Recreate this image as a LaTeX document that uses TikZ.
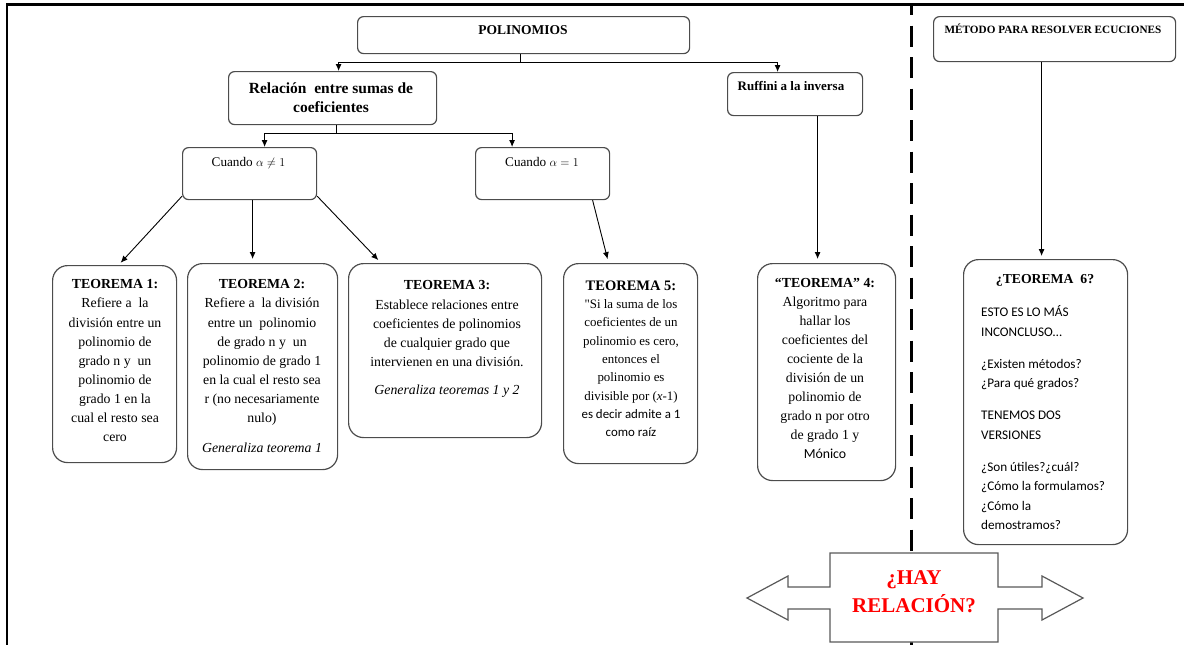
\documentclass[tikz,border=0pt]{standalone}
\usepackage{fontspec}
\setmainfont{Liberation Serif}
\newfontfamily\carl{Carlito}
\newfontfamily\rawser[Ligatures=ResetAll]{Liberation Serif}
\usetikzlibrary{arrows.meta}
\newcommand\mystrut{\rule{0pt}{1em}}
\begin{document}
\begin{tikzpicture}[x=1pt,y=-1pt,
  box/.style={draw=black!70, line width=1.2pt, rounded corners=6pt, inner sep=0pt, anchor=north west},
  tbox/.style={box, rounded corners=15pt},
  arr/.style={-{Latex[length=7pt,width=6pt]}, line width=0.9pt},
  txt/.style={inner sep=0pt, align=center, anchor=north},
  one/.style={inner sep=0pt, anchor=base},
  body/.style={font=\fontsize{13.8}{19.1}\selectfont}
]
\useasboundingbox (0,0) rectangle (1184,645);
% frame and divider
\draw[line width=2.2pt] (7,645) -- (7,4.5) -- (1184,4.5);
\draw[line width=3pt, dash pattern=on 21pt off 10.5pt, dash phase=10pt] (911,4) -- (911,645);

% boxes
\node[box, minimum width=332, minimum height=37] (pol) at (357,16) {};
\node[box, minimum width=208, minimum height=53] (rel) at (228,71) {};
\node[box, minimum width=135, minimum height=43] (ruf) at (727,72) {};
\node[box, minimum width=242, minimum height=45] (met) at (933,16) {};
\node[box, minimum width=134, minimum height=52] (c1) at (182,147) {};
\node[box, minimum width=134, minimum height=52] (c2) at (475,147) {};
\node[tbox, minimum width=124, minimum height=197] (t1) at (52,265) {};
\node[tbox, minimum width=150, minimum height=206] (t2) at (187,263) {};
\node[tbox, minimum width=193, minimum height=174] (t3) at (348,263) {};
\node[tbox, minimum width=134, minimum height=200] (t5) at (563,263) {};
\node[tbox, minimum width=138, minimum height=217] (t4) at (757,263) {};
\node[tbox, minimum width=164, minimum height=285] (t6) at (963,259) {};

% texts
\node[one, font=\bfseries\fontsize{13.5}{16}\selectfont] (polt) at (523,34.5) {POLINOMIOS};
\node[txt, font=\bfseries\fontsize{15.5}{19}\selectfont] (relt) at (331,77.6) {\mystrut Relación\ \ entre sumas de\\coeficientes};
\node[one, font=\bfseries\fontsize{13}{16}\selectfont] (ruft) at (791,90.3) {Ruffini a la inversa};
\node[one, font=\bfseries\fontsize{11.2}{14}\selectfont] (mett) at (1053,33.7) {MÉTODO PARA RESOLVER ECUCIONES};
\node[one, font=\fontsize{13.2}{16}\selectfont] (c1t) at (248.5,166.3) {Cuando $\alpha \neq 1$};
\node[one, font=\fontsize{13.2}{16}\selectfont] (c2t) at (542,166.5) {Cuando $\alpha = 1$};

\node[txt, body] (t1t) at (115,274.8) {\mystrut{\bfseries TEOREMA 1:}\\Refiere a\ \ la\\división entre un\\polinomio de\\grado n y\ \ un\\polinomio de\\grado 1 en la\\cual el resto sea\\cero};
\node[txt, body] (t2t) at (262,274.8) {\mystrut{\bfseries TEOREMA 2:}\\Refiere a\ \ la división\\entre un\ \ polinomio\\de grado n y\ \ un\\polinomio de grado 1\\en la cual el resto sea\\r (no necesariamente\\nulo)\\[10.9pt]\textit{Generaliza teorema 1}};
\node[txt, font=\fontsize{13.8}{19.2}\selectfont] (t3t) at (447,275.8) {\mystrut{\bfseries TEOREMA 3:}\\Establece relaciones entre\\coeficientes de polinomios\\de cualquier grado que\\intervienen en una división.\\[9pt]\textit{Generaliza teoremas 1 y 2}};
\node[txt, font=\fontsize{12.9}{18.35}\selectfont] (t5t) at (631,276.9) {\mystrut{\fontsize{14.5}{18.35}\selectfont\bfseries TEOREMA 5:}\\{\rawser"}Si la suma de los\\coeficientes de un\\polinomio es cero,\\entonces el\\polinomio es\\divisible por (\textit{x}-1)\\{\carl es decir admite a 1}\\{\carl como raíz}};
\node[txt, font=\fontsize{13.8}{19}\selectfont] (t4t) at (825,273.8) {\mystrut{\bfseries “TEOREMA” 4:}\\Algoritmo para\\hallar los\\coeficientes del\\cociente de la\\división de un\\polinomio de\\grado n por otro\\de grado 1 y\\{\carl Mónico}};
\node[one, font=\bfseries\fontsize{13.7}{16}\selectfont] (t6h) at (1045,283.6) {¿TEOREMA\ \ 6?};
\node[inner sep=0pt, anchor=north west, align=left, font=\carl\fontsize{13.2}{19.5}\selectfont] (t6t) at (981,303.2) {\mystrut ESTO ES LO MÁS\\INCONCLUSO…\\[12.5pt]¿Existen métodos?\\¿Para qué grados?\\[12.5pt]TENEMOS DOS\\VERSIONES\\[12.5pt]¿Son útiles?¿cuál?\\¿Cómo la formulamos?\\¿Cómo la\\demostramos?};

% connectors
\draw[arr] ([xshift=-3pt]pol.south) -- ++(0,8) -| ([xshift=6pt]rel.north);
\draw[arr] ([xshift=-3pt]pol.south) -- ++(0,8) -| ([xshift=-17.5pt]ruf.north);
\draw[arr] ([xshift=4pt]rel.south) -- ++(0,8) -| ([xshift=15pt]c1.north);
\draw[arr] ([xshift=4pt]rel.south) -- ++(0,8) -| ([xshift=-30.5pt]c2.north);
\draw[arr, shorten >=3pt] ([yshift=4pt]c1.south west) -- ([xshift=4pt]t1.north);
\draw[arr, shorten >=4pt] ([xshift=3pt]c1.south) -- ([xshift=3pt]c1.south |- t2.north);
\draw[arr, shorten >=4pt] ([yshift=4pt]c1.south east) -- ([xshift=-64pt]t3.north);
\draw[arr, shorten >=4pt] ([xshift=50pt]c2.south) -- ([xshift=-22pt]t5.north);
\draw[arr, shorten >=4pt] ([xshift=22.5pt]ruf.south) -- ([xshift=22.5pt]ruf.south |- t4.north);
\draw[arr, shorten >=3pt] ([xshift=-13pt]met.south) -- ([xshift=-13pt]met.south |- t6.north);

% double arrow
\draw[draw=black!65, line width=1.2pt, fill=white, line join=miter]
  (747,598) -- (788,576) -- (788,587) -- (830,587) -- (830,553) -- (998,553) -- (998,587)
  -- (1042,587) -- (1042,576) -- (1083,598) -- (1042,620) -- (1042,609) -- (998,609)
  -- (998,642) -- (830,642) -- (830,609) -- (788,609) -- (788,620) -- cycle;
\node[txt, font=\bfseries\fontsize{21}{28.5}\selectfont, text=red] (hay) at (914,563) {\mystrut ¿HAY\\RELACIÓN?};
\end{tikzpicture}
\end{document}
